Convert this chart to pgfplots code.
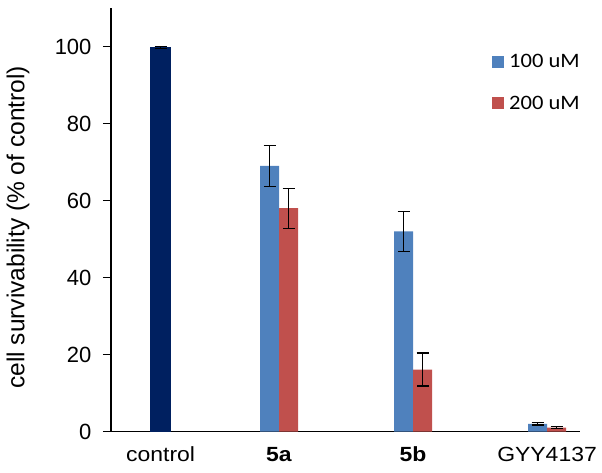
\documentclass[border=0pt]{standalone}
\usepackage{pgfplots}
\pgfplotsset{compat=1.18}
\usepackage{fontspec}
\setmainfont{Liberation Sans}
\newfontfamily\xfont{Liberation Sans}[FakeStretch=1.12]
\newfontfamily\legfont{Carlito}[FakeStretch=1.1]
\definecolor{navy}{HTML}{002060}
\definecolor{xlblue}{HTML}{4F81BD}
\definecolor{xlred}{HTML}{C0504D}
\begin{document}
\begin{tikzpicture}
\begin{axis}[name=ax, scale only axis, width=469pt, height=423.5pt,
  xmin=-0.254, xmax=3.246, ymin=0, ymax=110,
  axis x line*=bottom, axis y line*=left,
  axis line style={line width=1.5pt, -},
  ytick={0,20,...,100}, tick align=outside, major tick length=8pt,
  ytick style={line width=1.3pt, black},
  xtick={0.116,1,2,3},
  xticklabels={control, \textbf{5a}, \textbf{5b}, GYY4137},
  xtick style={draw=none},
  yticklabel style={font=\fontsize{22}{26}\selectfont, xshift=-8pt},
  xticklabel style={font=\xfont\fontsize{20.5}{24}\selectfont, yshift=-4pt},
  /pgf/number format/assume math mode=true,
  ylabel={cell survivability (\% of control)},
  ylabel style={font=\fontsize{24.5}{28}\selectfont, at={(axis description cs:0,0.482)}, anchor=center, yshift=93pt},
  legend style={draw=none, fill=none, at={(rel axis cs:0.8124,0.8961)}, anchor=north west, inner sep=0pt,
    font=\legfont\fontsize{20.5}{24}\selectfont, row sep=23pt, legend cell align=left},
  error bars/error bar style={black, line width=1.2pt},
  error bars/error mark options={rotate=90, mark size=6pt, black, line width=1.2pt},
]
\addplot[ybar, bar width=21pt, bar shift=0pt, fill=navy, draw=none, forget plot,
  error bars/.cd, y dir=both, y explicit]
  coordinates {(0.116,99.8) +- (0,0.3)};
\addplot[ybar, bar width=19pt, bar shift=0pt, fill=xlblue, draw=none,
  legend image code/.code={\fill[xlblue] (0pt,-6pt) rectangle (12pt,6pt); \path (15pt,0pt);},
  error bars/.cd, y dir=both, y explicit]
  coordinates {(0.9291,69.0) +- (0,5.3) (1.9291,52.0) +- (0,5.2) (2.9291,2.0) +- (0,0.3)};
\addplot[ybar, bar width=19pt, bar shift=0pt, fill=xlred, draw=none,
  legend image code/.code={\fill[xlred] (0pt,-6pt) rectangle (12pt,6pt); \path (15pt,0pt);},
  error bars/.cd, y dir=both, y explicit]
  coordinates {(1.0709,58.0) +- (0,5.2) (2.0709,16.1) +- (0,4.3) (3.0709,1.0) +- (0,0.2)};
\legend{100 uM, 200 uM}
\end{axis}
\pgfresetboundingbox
\path[use as bounding box] ([xshift=-111pt,yshift=-40.5pt]ax.south west) rectangle ([xshift=491pt,yshift=431.5pt]ax.south west);
\end{tikzpicture}
\end{document}
